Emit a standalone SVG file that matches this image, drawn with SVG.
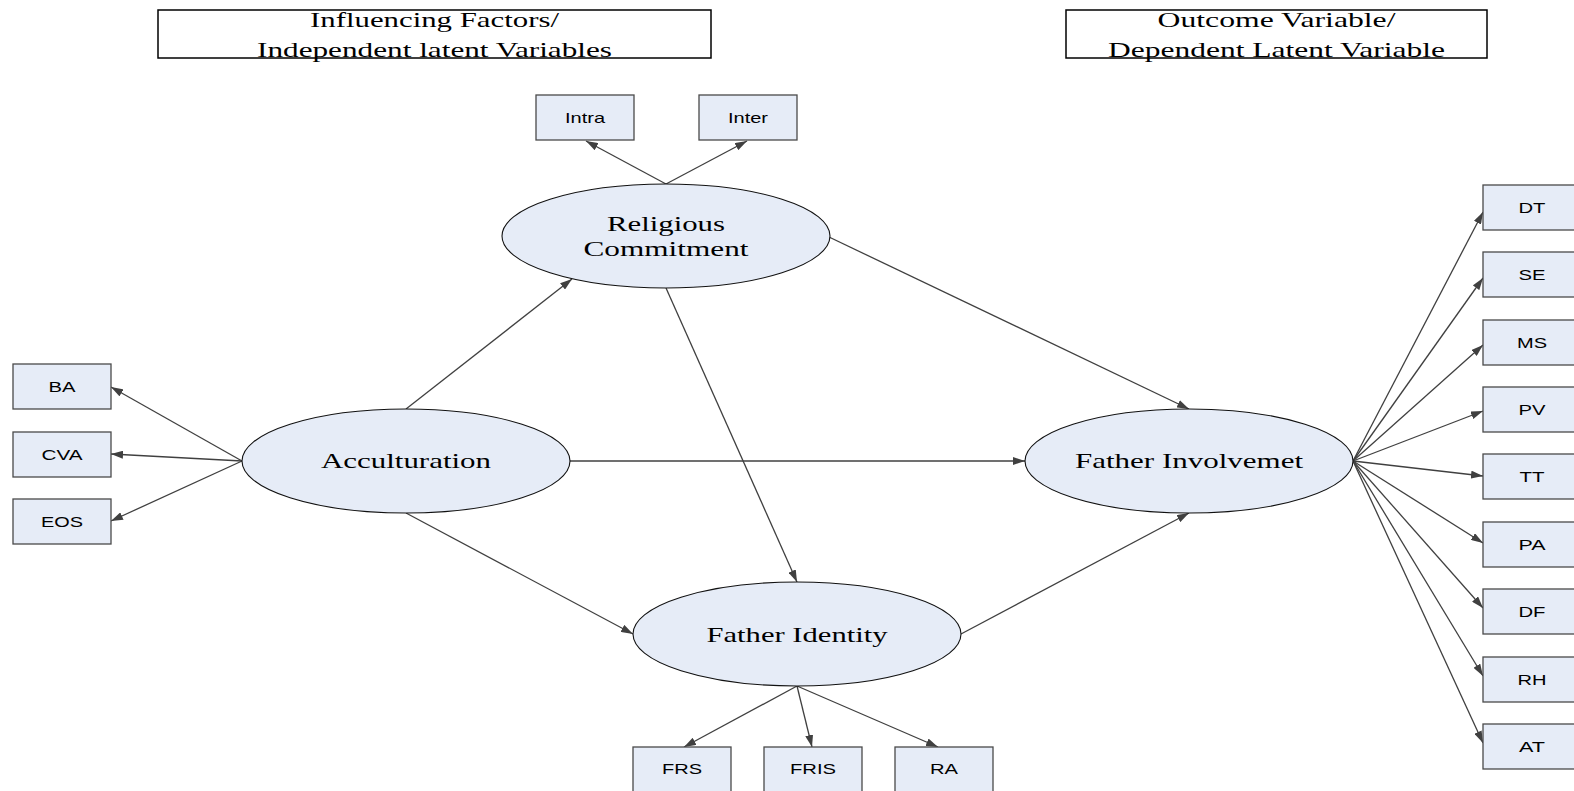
<svg xmlns="http://www.w3.org/2000/svg" width="1574" height="791" viewBox="0 0 1574 791">
<style>
.hdr{fill:#fff;stroke:#000;stroke-width:1.5}
.ht{font-family:"Liberation Serif","Times New Roman",serif;font-size:22px;fill:#000;text-anchor:middle}
.box{fill:#E6ECF7;stroke:#4a4a4a;stroke-width:1.3}
.bt{font-family:"Liberation Sans",Arial,sans-serif;font-size:15px;fill:#000;text-anchor:middle}
.ell{fill:#E6ECF7;stroke:#111;stroke-width:1.1}
.et{font-family:"Liberation Serif","Times New Roman",serif;font-size:22px;fill:#000;text-anchor:middle}
.c line{stroke:#404040;stroke-width:1.3;marker-end:url(#ah)}
</style>
<defs>
<marker id="ah" viewBox="0 0 12 8" refX="12" refY="4" markerWidth="12" markerHeight="8" orient="auto" markerUnits="userSpaceOnUse"><path d="M0,0 L12,4 L0,8 z" fill="#404040"/></marker>
</defs>
<rect width="1574" height="791" fill="#fff"/>
<g id="header-left">
<rect class="hdr" x="158" y="10" width="553" height="48"/>
<text class="ht" x="434.5" y="27" textLength="249" lengthAdjust="spacingAndGlyphs">Influencing Factors/</text>
<text class="ht" x="434.5" y="56.5" textLength="355" lengthAdjust="spacingAndGlyphs">Independent latent Variables</text>
</g>
<g id="header-right">
<rect class="hdr" x="1066" y="10" width="421" height="48"/>
<text class="ht" x="1276.5" y="27" textLength="238" lengthAdjust="spacingAndGlyphs">Outcome Variable/</text>
<text class="ht" x="1276.5" y="56.5" textLength="337" lengthAdjust="spacingAndGlyphs">Dependent Latent Variable</text>
</g>
<g class="c" id="connectors">
<line x1="666" y1="184" x2="586" y2="141"/>
<line x1="666" y1="184" x2="747" y2="141"/>
<line x1="406" y1="409" x2="572" y2="279"/>
<line x1="829" y1="237" x2="1189" y2="409"/>
<line x1="666" y1="288" x2="797" y2="582"/>
<line x1="570" y1="461" x2="1025" y2="461"/>
<line x1="406" y1="513" x2="633" y2="634"/>
<line x1="961" y1="634" x2="1189" y2="513"/>
<line x1="242" y1="461" x2="111" y2="387"/>
<line x1="242" y1="461" x2="111" y2="454"/>
<line x1="242" y1="461" x2="111" y2="521"/>
<line x1="1353" y1="461" x2="1483" y2="212"/>
<line x1="1353" y1="461" x2="1483" y2="278"/>
<line x1="1353" y1="461" x2="1483" y2="345"/>
<line x1="1353" y1="461" x2="1483" y2="411"/>
<line x1="1353" y1="461" x2="1483" y2="476"/>
<line x1="1353" y1="461" x2="1483" y2="543"/>
<line x1="1353" y1="461" x2="1483" y2="608"/>
<line x1="1353" y1="461" x2="1483" y2="676"/>
<line x1="1353" y1="461" x2="1483" y2="743"/>
<line x1="797" y1="686" x2="684" y2="747"/>
<line x1="797" y1="686" x2="812" y2="747"/>
<line x1="797" y1="686" x2="938" y2="747"/>
</g>
<g id="religious-commitment">
<ellipse class="ell" cx="666" cy="236" rx="164" ry="52"/>
<text class="et" x="666" y="230.5" textLength="118" lengthAdjust="spacingAndGlyphs">Religious</text>
<text class="et" x="666" y="256" textLength="165" lengthAdjust="spacingAndGlyphs">Commitment</text>
</g>
<g id="acculturation">
<ellipse class="ell" cx="406" cy="461" rx="164" ry="52"/>
<text class="et" x="406" y="468" textLength="170" lengthAdjust="spacingAndGlyphs">Acculturation</text>
</g>
<g id="father-identity">
<ellipse class="ell" cx="797" cy="634" rx="164" ry="52"/>
<text class="et" x="797" y="641.5" textLength="181" lengthAdjust="spacingAndGlyphs">Father Identity</text>
</g>
<g id="father-involvement">
<ellipse class="ell" cx="1189" cy="461" rx="164" ry="52"/>
<text class="et" x="1189" y="468" textLength="228" lengthAdjust="spacingAndGlyphs">Father Involvemet</text>
</g>
<g id="intra"><rect class="box" x="536" y="95" width="98" height="45"/><text class="bt" x="585" y="123" textLength="40" lengthAdjust="spacingAndGlyphs">Intra</text></g>
<g id="inter"><rect class="box" x="699" y="95" width="98" height="45"/><text class="bt" x="748" y="123" textLength="40" lengthAdjust="spacingAndGlyphs">Inter</text></g>
<g id="ba"><rect class="box" x="13" y="364" width="98" height="45"/><text class="bt" x="62" y="392" textLength="27" lengthAdjust="spacingAndGlyphs">BA</text></g>
<g id="cva"><rect class="box" x="13" y="432" width="98" height="45"/><text class="bt" x="62" y="460" textLength="41" lengthAdjust="spacingAndGlyphs">CVA</text></g>
<g id="eos"><rect class="box" x="13" y="499" width="98" height="45"/><text class="bt" x="62" y="527" textLength="42" lengthAdjust="spacingAndGlyphs">EOS</text></g>
<g id="dt"><rect class="box" x="1483" y="185" width="98" height="45"/><text class="bt" x="1532" y="213" textLength="27" lengthAdjust="spacingAndGlyphs">DT</text></g>
<g id="se"><rect class="box" x="1483" y="252" width="98" height="45"/><text class="bt" x="1532" y="280" textLength="27" lengthAdjust="spacingAndGlyphs">SE</text></g>
<g id="ms"><rect class="box" x="1483" y="320" width="98" height="45"/><text class="bt" x="1532" y="348" textLength="30" lengthAdjust="spacingAndGlyphs">MS</text></g>
<g id="pv"><rect class="box" x="1483" y="387" width="98" height="45"/><text class="bt" x="1532" y="415" textLength="27" lengthAdjust="spacingAndGlyphs">PV</text></g>
<g id="tt"><rect class="box" x="1483" y="454" width="98" height="45"/><text class="bt" x="1532" y="482" textLength="25" lengthAdjust="spacingAndGlyphs">TT</text></g>
<g id="pa"><rect class="box" x="1483" y="522" width="98" height="45"/><text class="bt" x="1532" y="550" textLength="27" lengthAdjust="spacingAndGlyphs">PA</text></g>
<g id="df"><rect class="box" x="1483" y="589" width="98" height="45"/><text class="bt" x="1532" y="617" textLength="27" lengthAdjust="spacingAndGlyphs">DF</text></g>
<g id="rh"><rect class="box" x="1483" y="657" width="98" height="45"/><text class="bt" x="1532" y="685" textLength="29" lengthAdjust="spacingAndGlyphs">RH</text></g>
<g id="at"><rect class="box" x="1483" y="724" width="98" height="45"/><text class="bt" x="1532" y="752" textLength="26" lengthAdjust="spacingAndGlyphs">AT</text></g>
<g id="frs"><rect class="box" x="633" y="747" width="98" height="45"/><text class="bt" x="682" y="774" textLength="40" lengthAdjust="spacingAndGlyphs">FRS</text></g>
<g id="fris"><rect class="box" x="764" y="747" width="98" height="45"/><text class="bt" x="813" y="774" textLength="46" lengthAdjust="spacingAndGlyphs">FRIS</text></g>
<g id="ra"><rect class="box" x="895" y="747" width="98" height="45"/><text class="bt" x="944" y="774" textLength="28" lengthAdjust="spacingAndGlyphs">RA</text></g>
</svg>
